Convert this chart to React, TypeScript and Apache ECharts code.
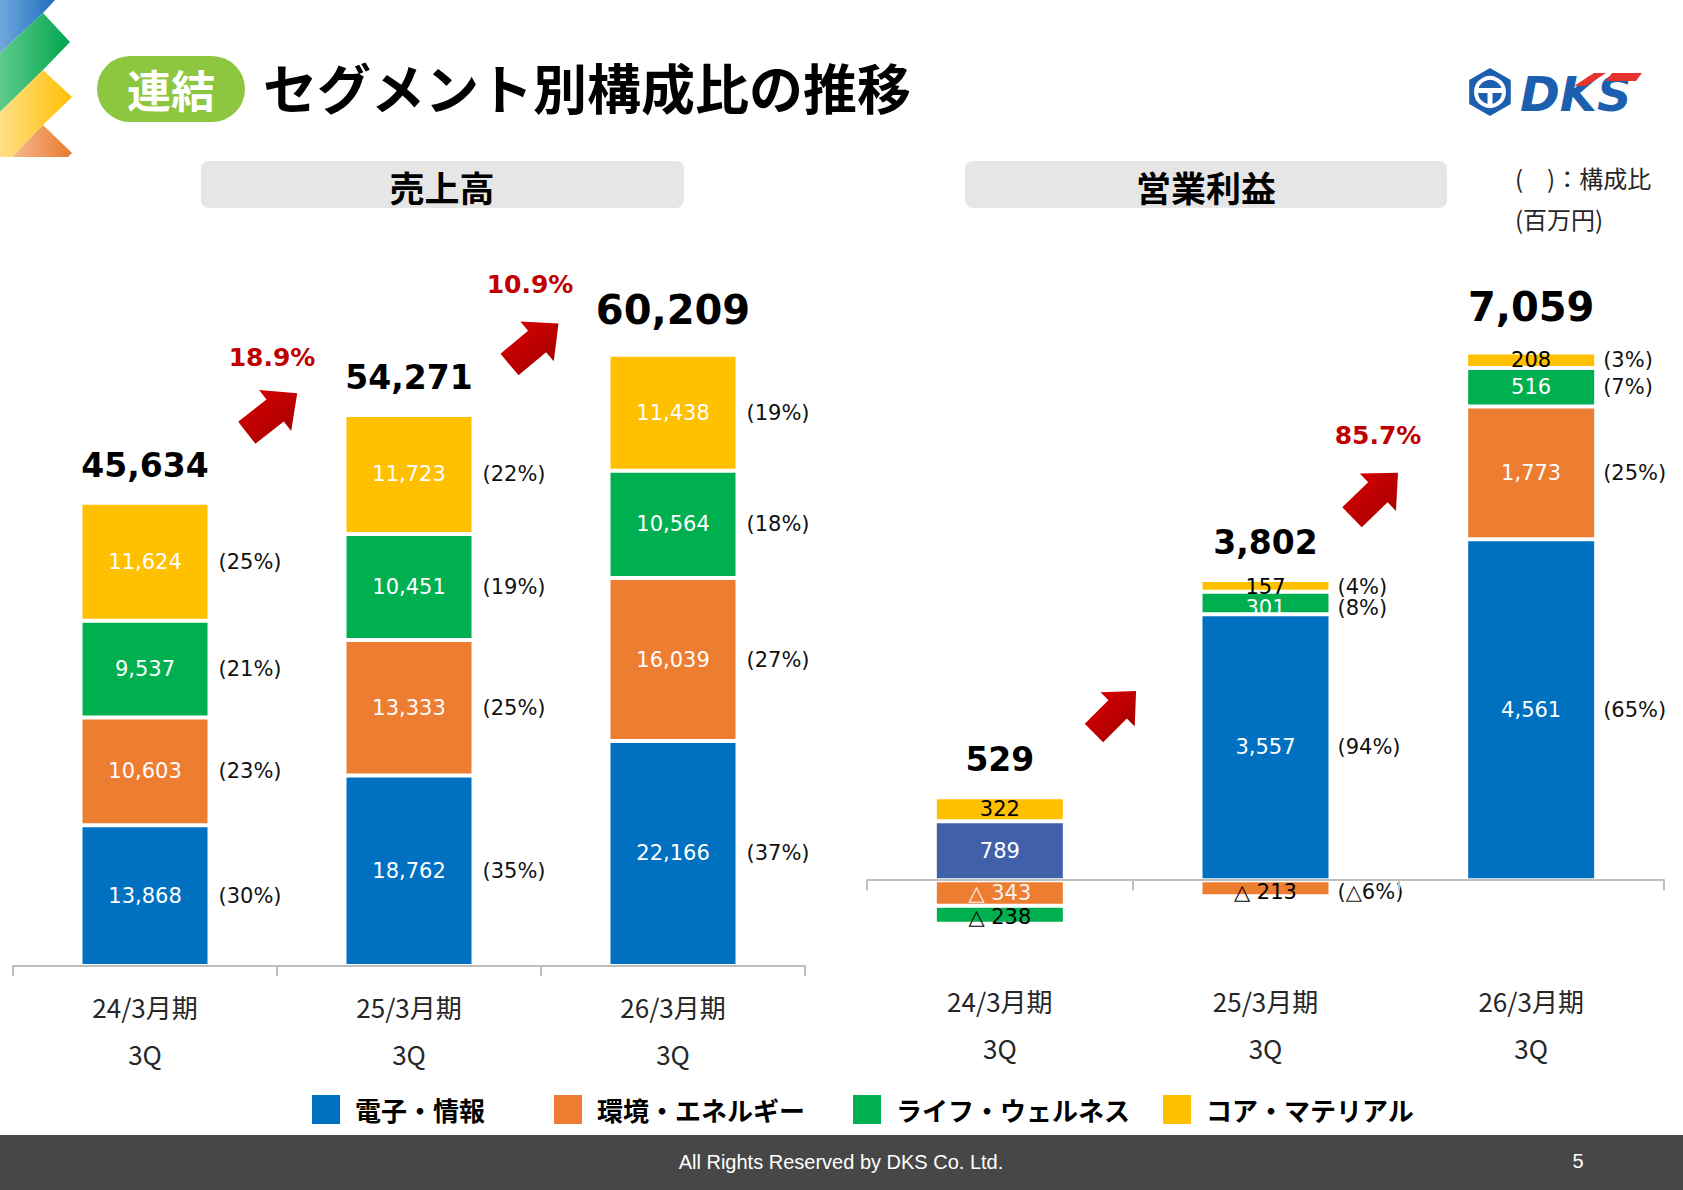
import React, { useEffect, useRef } from 'react';
import * as echarts from 'echarts';

// ---- data ----
const periods = ['24/3月期\n3Q', '25/3月期\n3Q', '26/3月期\n3Q'];
const segmentNames = ['電子・情報', '環境・エネルギー', 'ライフ・ウェルネス', 'コア・マテリアル'];

// 売上高 (百万円)
const salesElectronics = [13868, 18762, 22166];
const salesEnergy = [10603, 13333, 16039];
const salesWellness = [9537, 10451, 10564];
const salesMaterial = [11624, 11723, 11438];
const salesTotal = [45634, 54271, 60209];
const salesShareElectronics = [30, 35, 37];
const salesShareEnergy = [23, 25, 27];
const salesShareWellness = [21, 19, 18];
const salesShareMaterial = [25, 22, 19];
const salesGrowth = ['18.9%', '10.9%'];

// 営業利益 (百万円)
const profitElectronics = [789, 3557, 4561];
const profitEnergy = [-343, -213, 1773];
const profitWellness = [-238, 301, 516];
const profitMaterial = [322, 157, 208];
const profitTotal = [529, 3802, 7059];
const profitShareElectronics = [null, 94, 65];
const profitShareEnergy = [null, -6, 25];
const profitShareWellness = [null, 8, 7];
const profitShareMaterial = [null, 4, 3];
const profitGrowth = ['85.7%'];

// ---- styles ----
const CJK = '"Noto Sans CJK JP", "Noto Sans", sans-serif';
const NUM = '"DejaVu Sans", Verdana, sans-serif';
const BLUE = '#0070C0';
const ORANGE = '#ED7D31';
const GREEN = '#00B050';
const YELLOW = '#FFC000';
const DARK_RED = '#C00000';

const fmt = (v: number) =>
  v < 0 ? '△ ' + Math.abs(v).toLocaleString('en-US') : v.toLocaleString('en-US');
const fmtShare = (v: number | null | undefined) =>
  v == null ? '' : v < 0 ? `(△${-v}%)` : `(${v}%)`;

type SegOpts = {
  name: string;
  values: number[];
  shares: (number | null)[];
  color: string;
  xMain: number;
  xShare: number;
  y: number;
  stack: string;
  barWidth: number;
  ink: string[];
  itemColors?: (string | null)[];
  shareDistance: number;
  nudge?: number[];
};

function segmentSeries(o: SegOpts) {
  const main = {
    type: 'bar',
    name: o.name,
    xAxisIndex: o.xMain,
    yAxisIndex: o.y,
    stack: o.stack,
    barWidth: o.barWidth,
    itemStyle: { color: o.color, borderColor: '#ffffff', borderWidth: 2 },
    label: {
      show: true,
      position: 'inside',
      formatter: (p: any) => fmt(p.value),
      fontFamily: NUM,
      fontSize: 21,
      color: '#ffffff',
    },
    data: o.values.map((v, i) => {
      const item: any = { value: v, label: { color: o.ink[i], offset: [0, o.nudge ? o.nudge[i] : 0] } };
      if (o.itemColors && o.itemColors[i]) item.itemStyle = { color: o.itemColors[i] };
      return item;
    }),
  };
  // transparent twin bar on a hidden axis carrying the share label on its right side
  const share = {
    type: 'bar',
    name: o.name + '（構成比）',
    xAxisIndex: o.xShare,
    yAxisIndex: o.y,
    stack: o.stack + '-share',
    barWidth: o.barWidth,
    silent: true,
    itemStyle: { color: 'rgba(0,0,0,0)' },
    label: {
      show: true,
      position: 'right',
      distance: o.shareDistance,
      formatter: (p: any) => fmtShare(o.shares[p.dataIndex]),
      fontFamily: NUM,
      fontSize: 21,
      color: '#111111',
    },
    data: o.values.map((v, i) => ({ value: v, label: { offset: [0, o.nudge ? o.nudge[i] : 0] } })),
  };
  return [main, share];
}

function totalSeries(name: string, totals: number[], x: number, y: number, stack: string, barWidth: number) {
  const sizes = [33, 33, 40];
  const dist = [21, 21, 25];
  return {
    type: 'bar',
    name,
    xAxisIndex: x,
    yAxisIndex: y,
    stack,
    barWidth,
    silent: true,
    itemStyle: { color: 'rgba(0,0,0,0)', borderWidth: 0 },
    label: {
      show: true,
      position: 'top',
      fontFamily: NUM,
      fontWeight: 'bold',
      color: '#000000',
      formatter: (p: any) => totals[p.dataIndex].toLocaleString('en-US'),
    },
    data: totals.map((_, i) => ({ value: 0, label: { fontSize: sizes[i], distance: dist[i] } })),
  };
}

const catAxis = (grid: number, margin: number) => ({
  type: 'category',
  gridIndex: grid,
  data: periods,
  z: 3,
  axisLine: { show: true, onZero: true, lineStyle: { color: '#BFBFBF', width: 2 } },
  axisTick: { show: true, alignWithLabel: false, length: 10, lineStyle: { color: '#BFBFBF', width: 2 } },
  axisLabel: { margin, fontSize: 26, lineHeight: 47, color: '#262626', fontFamily: CJK },
});
const ghostAxis = (grid: number) => ({ type: 'category', gridIndex: grid, data: periods, show: false });

// block arrow pointing along +x, rotated into place
const arrowPoints = [[-32, -14], [4, -14], [4, -26], [32, 0], [4, 26], [4, 14], [-32, 14]];
const arrow = (x: number, y: number, deg: number, s = 1) => ({
  type: 'polygon',
  x,
  y,
  scaleX: s,
  scaleY: s,
  rotation: (deg * Math.PI) / 180,
  shape: { points: arrowPoints },
  style: {
    fill: new echarts.graphic.LinearGradient(0, 0, 0, 1, [
      { offset: 0, color: '#D40000' },
      { offset: 1, color: '#A80000' },
    ]),
  },
  z: 10,
});

const text = (t: string, x: number, y: number, font: string, fill: string, align = 'left') => ({
  type: 'text',
  z: 20,
  style: {
    text: t,
    x,
    y,
    font,
    fill,
    textAlign: align,
    align,
    textVerticalAlign: 'middle',
    verticalAlign: 'middle',
  },
});

const grad = (a: string, b: string) =>
  new echarts.graphic.LinearGradient(0, 0, 1, 0, [
    { offset: 0, color: a },
    { offset: 1, color: b },
  ]);

function hexagon(cx: number, cy: number, r: number) {
  const pts: number[][] = [];
  for (let k = 0; k < 6; k++) {
    const a = ((-90 + 60 * k) * Math.PI) / 180;
    pts.push([cx + r * Math.cos(a), cy + r * Math.sin(a)]);
  }
  return pts;
}

function buildOption() {
  const salesSeries = [
    ...segmentSeries({ name: segmentNames[0], values: salesElectronics, shares: salesShareElectronics, color: BLUE, xMain: 0, xShare: 1, y: 0, stack: 'sales', barWidth: 129, ink: ['#fff', '#fff', '#fff'], shareDistance: 9 }),
    ...segmentSeries({ name: segmentNames[1], values: salesEnergy, shares: salesShareEnergy, color: ORANGE, xMain: 0, xShare: 1, y: 0, stack: 'sales', barWidth: 129, ink: ['#fff', '#fff', '#fff'], shareDistance: 9 }),
    ...segmentSeries({ name: segmentNames[2], values: salesWellness, shares: salesShareWellness, color: GREEN, xMain: 0, xShare: 1, y: 0, stack: 'sales', barWidth: 129, ink: ['#fff', '#fff', '#fff'], shareDistance: 9 }),
    ...segmentSeries({ name: segmentNames[3], values: salesMaterial, shares: salesShareMaterial, color: YELLOW, xMain: 0, xShare: 1, y: 0, stack: 'sales', barWidth: 129, ink: ['#fff', '#fff', '#fff'], shareDistance: 9 }),
    totalSeries('売上高合計', salesTotal, 0, 0, 'sales', 129),
  ];
  const profitSeries = [
    ...segmentSeries({ name: segmentNames[0], values: profitElectronics, shares: profitShareElectronics, color: BLUE, xMain: 2, xShare: 3, y: 1, stack: 'profit', barWidth: 130, ink: ['#fff', '#fff', '#fff'], itemColors: ['#4061A9', null, null], shareDistance: 7 }),
    ...segmentSeries({ name: segmentNames[1], values: profitEnergy, shares: profitShareEnergy, color: ORANGE, xMain: 2, xShare: 3, y: 1, stack: 'profit', barWidth: 130, ink: ['#F7F3EE', '#000', '#fff'], shareDistance: 7, nudge: [0, 4, 0] }),
    ...segmentSeries({ name: segmentNames[2], values: profitWellness, shares: profitShareWellness, color: GREEN, xMain: 2, xShare: 3, y: 1, stack: 'profit', barWidth: 130, ink: ['#000', '#fff', '#fff'], shareDistance: 7, nudge: [2, 5, 0] }),
    ...segmentSeries({ name: segmentNames[3], values: profitMaterial, shares: profitShareMaterial, color: YELLOW, xMain: 2, xShare: 3, y: 1, stack: 'profit', barWidth: 130, ink: ['#000', '#000', '#000'], shareDistance: 7, nudge: [0, 1, 0] }),
    totalSeries('営業利益合計', profitTotal, 2, 1, 'profit', 130),
  ];

  const legendLefts = [310, 552, 851, 1161];
  const legends = segmentNames.map((n, i) => ({
    data: [n],
    left: legendLefts[i],
    top: 1093,
    padding: 0,
    icon: 'rect',
    itemWidth: 30,
    itemHeight: 31,
    selectedMode: false,
    textStyle: { fontSize: 26, fontWeight: 'bold', fontFamily: CJK, color: '#000', padding: [0, 0, 0, 9] },
  }));

  const graphics: any[] = [
    // corner mark
    { type: 'polygon', shape: { points: [[0, 0], [55, 0], [43, 13], [0, 53]] }, style: { fill: grad('#6FA8DC', '#1F6FBF') } },
    { type: 'polygon', shape: { points: [[43, 13], [70, 42], [43, 70], [0, 112], [0, 53]] }, style: { fill: grad('#5FCB8A', '#00A550') } },
    { type: 'polygon', shape: { points: [[43, 70], [72, 97], [43, 125], [12, 157], [0, 157], [0, 112]] }, style: { fill: grad('#FFE08A', '#FFBF00') } },
    { type: 'polygon', shape: { points: [[43, 125], [72, 153], [68, 157], [12, 157]] }, style: { fill: grad('#F6B88E', '#E87A2F') } },
    // title
    { type: 'rect', shape: { x: 97, y: 56, width: 148, height: 66, r: 33 }, style: { fill: '#8DC63F' }, z: 5 },
    text('連結', 171, 89, `bold 44px ${CJK}`, '#ffffff', 'center'),
    text('セグメント別構成比の推移', 263, 86, `bold 54px ${CJK}`, '#000000'),
    // section headers
    { type: 'rect', shape: { x: 201, y: 161, width: 483, height: 47, r: 8 }, style: { fill: '#E7E6E6' }, z: 5 },
    text('売上高', 442, 186, `bold 35px ${CJK}`, '#000000', 'center'),
    { type: 'rect', shape: { x: 965, y: 161, width: 482, height: 47, r: 8 }, style: { fill: '#E7E6E6' }, z: 5 },
    text('営業利益', 1206, 186, `bold 35px ${CJK}`, '#000000', 'center'),
    text('(　)：構成比', 1515, 177, `24px ${CJK}`, '#262626'),
    text('(百万円)', 1515, 218, `24px ${CJK}`, '#262626'),
    // growth arrows
    arrow(272, 413, 38),
    arrow(534, 344, 40),
    arrow(1375, 495, 44),
    arrow(1115, 712, 45, 0.93),
    text(salesGrowth[0], 272, 357, `bold 25px ${NUM}`, DARK_RED, 'center'),
    text(salesGrowth[1], 530, 284, `bold 25px ${NUM}`, DARK_RED, 'center'),
    text(profitGrowth[0], 1378, 435, `bold 25px ${NUM}`, DARK_RED, 'center'),
    // company mark
    { type: 'polygon', shape: { points: hexagon(1490, 92, 24) }, style: { fill: '#1B5FAE' }, z: 5 },
    { type: 'circle', shape: { cx: 1490, cy: 92, r: 14 }, style: { fill: 'none', stroke: '#ffffff', lineWidth: 4 }, z: 6 },
    { type: 'rect', shape: { x: 1475, y: 88, width: 30, height: 5 }, style: { fill: '#ffffff' }, z: 6 },
    { type: 'rect', shape: { x: 1487.5, y: 88, width: 5, height: 16 }, style: { fill: '#ffffff' }, z: 6 },
    text('DKS', 1520, 94, `italic 900 48px ${NUM}`, '#1B5FAE'),
    { type: 'polygon', shape: { points: [[1574, 86], [1594, 73], [1606, 73], [1586, 86]] }, style: { fill: '#E8322E' }, z: 21 },
    { type: 'polygon', shape: { points: [[1606, 81], [1612, 73], [1642, 73], [1636, 81]] }, style: { fill: '#E8322E' }, z: 21 },
    // footer
    { type: 'rect', shape: { x: 0, y: 1135, width: 1683, height: 55 }, style: { fill: '#474747' }, z: 5 },
    text('All Rights Reserved by DKS Co. Ltd.', 841, 1162, `20px "Liberation Sans", Arial, sans-serif`, '#ffffff', 'center'),
    text('5', 1578, 1161, `20px "Liberation Sans", Arial, sans-serif`, '#ffffff', 'center'),
  ];

  return {
    animation: false,
    backgroundColor: '#ffffff',
    textStyle: { fontFamily: CJK },
    grid: [
      { left: 13, top: 306, width: 792, height: 660 },
      { left: 867, top: 282, width: 797, height: 673 },
    ],
    xAxis: [catAxis(0, 16.5), ghostAxis(0), catAxis(1, 21.5), ghostAxis(1)],
    yAxis: [
      { type: 'value', gridIndex: 0, min: 0, max: 65000, show: false },
      { type: 'value', gridIndex: 1, min: -1000, max: 8000, show: false },
    ],
    legend: legends,
    series: [...salesSeries, ...profitSeries],
    graphic: { elements: graphics },
  };
}

export default function App() {
  const ref = useRef<HTMLDivElement>(null);
  useEffect(() => {
    document.body.style.margin = '0';
    const chart = echarts.init(ref.current!, null, { renderer: 'svg' });
    chart.setOption(buildOption() as any);
    return () => chart.dispose();
  }, []);
  return <div ref={ref} style={{ width: 1683, height: 1190 }} />;
}
